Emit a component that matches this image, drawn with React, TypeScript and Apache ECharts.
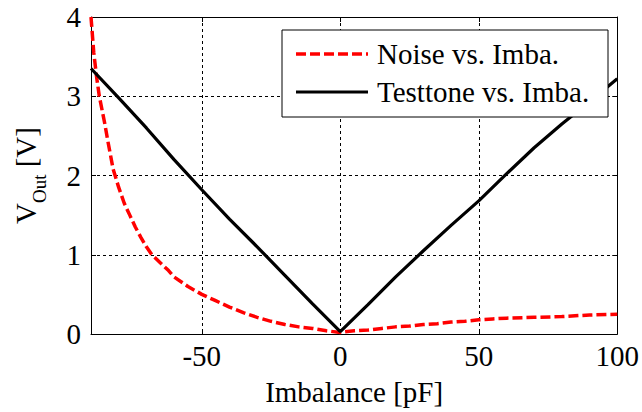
import React, { useEffect, useRef } from "react";
import * as echarts from "echarts";

const noiseX = [-90, -89, -88, -87, -85, -84, -82, -80, -78, -76, -74, -72, -70, -68, -65, -62, -60, -55, -50, -45, -40, -35, -30, -25, -20, -15, -10, -5, 0, 5, 10, 15, 20, 25, 30, 35, 40, 45, 50, 55, 60, 70, 80, 90, 100];
const noiseY = [4.0, 3.55, 3.25, 3.0, 2.65, 2.45, 2.08, 1.85, 1.65, 1.5, 1.35, 1.22, 1.1, 1.0, 0.9, 0.8, 0.72, 0.6, 0.5, 0.42, 0.34, 0.27, 0.21, 0.16, 0.12, 0.09, 0.07, 0.04, 0.02, 0.04, 0.05, 0.07, 0.09, 0.1, 0.12, 0.13, 0.15, 0.16, 0.18, 0.19, 0.2, 0.21, 0.22, 0.24, 0.25];

const toneX = [-90, -80, -70, -60, -50, -40, -30, -20, -10, 0, 10, 20, 30, 40, 50, 60, 70, 80, 90, 100];
const toneY = [3.35, 2.98, 2.6, 2.2, 1.82, 1.45, 1.1, 0.74, 0.38, 0.03, 0.37, 0.72, 1.05, 1.37, 1.68, 2.02, 2.35, 2.65, 2.93, 3.22];

const xTicks = [-50, 0, 50, 100];
const seriesNames = ["Noise vs. Imba.", "Testtone vs. Imba."];

const FONT = "'Liberation Serif', 'Times New Roman', serif";
const FS = 29;

export default function App() {
  const ref = useRef<HTMLDivElement>(null);
  useEffect(() => {
    if (!ref.current) return;
    const chart = echarts.init(ref.current, undefined, { renderer: "svg" });
    const grid = { left: 91, right: 24, top: 17, bottom: 78 };
    const splitLine = { show: true, lineStyle: { color: "#000", width: 1, type: [3, 3] as any } };
    chart.setOption({
      animation: false,
      backgroundColor: "#fff",
      grid: { ...grid, show: false },
      xAxis: [
        {
          type: "value",
          min: -90,
          max: 100,
          axisLine: { show: true, onZero: false, lineStyle: { color: "#000", width: 1 } },
          axisTick: { show: true, inside: true, length: 5, customValues: xTicks, lineStyle: { color: "#000" } },
          axisLabel: { customValues: xTicks, color: "#000", fontFamily: FONT, fontSize: FS, margin: 7 },
          splitLine,
          name: "Imbalance [pF]",
          nameLocation: "middle",
          nameGap: 43,
          nameTextStyle: { color: "#000", fontFamily: FONT, fontSize: FS },
        },
        {
          type: "value",
          position: "top",
          min: -90,
          max: 100,
          axisLine: { show: true, onZero: false, lineStyle: { color: "#000", width: 1 } },
          axisTick: { show: true, inside: true, length: 5, customValues: xTicks, lineStyle: { color: "#000" } },
          axisLabel: { show: false, customValues: xTicks },
          splitLine: { show: false },
        },
      ],
      yAxis: [
        {
          type: "value",
          min: 0,
          max: 4,
          interval: 1,
          axisLine: { show: true, onZero: false, lineStyle: { color: "#000", width: 1 } },
          axisTick: { show: true, inside: true, length: 5, lineStyle: { color: "#000" } },
          axisLabel: { color: "#000", fontFamily: FONT, fontSize: FS, margin: 10 },
          splitLine,
          name: "{v|V}{s|Out}{v| [V]}",
          nameLocation: "middle",
          nameGap: 48,
          nameTextStyle: {
            color: "#000",
            fontFamily: FONT,
            fontSize: FS,
            rich: {
              v: { fontFamily: FONT, fontSize: FS, color: "#000", lineHeight: 34 },
              s: { fontFamily: FONT, fontSize: 19, color: "#000", verticalAlign: "bottom", lineHeight: 19, padding: [0, 0, -6, 0] },
            },
          },
        },
        {
          type: "value",
          position: "right",
          min: 0,
          max: 4,
          interval: 1,
          axisLine: { show: true, onZero: false, lineStyle: { color: "#000", width: 1 } },
          axisTick: { show: true, inside: true, length: 5, lineStyle: { color: "#000" } },
          axisLabel: { show: false },
          splitLine: { show: false },
        },
      ],
      series: [
        {
          name: seriesNames[0],
          type: "line",
          data: noiseX.map((x, i) => [x, noiseY[i]]),
          symbol: "none",
          smooth: false,
          lineStyle: { color: "#ff0000", width: 3.5, type: [10, 4] as any },
          z: 3,
        },
        {
          name: seriesNames[1],
          type: "line",
          data: toneX.map((x, i) => [x, toneY[i]]),
          symbol: "none",
          lineStyle: { color: "#000", width: 3.2 },
          z: 4,
        },
      ],
      graphic: [
        {
          type: "rect",
          shape: { x: 282, y: 30, width: 326, height: 87 },
          style: { fill: "#fff", stroke: "#000", lineWidth: 1 },
          z: 10,
        },
        {
          type: "line",
          shape: { x1: 296, y1: 54, x2: 368, y2: 54 },
          style: { stroke: "#ff0000", lineWidth: 3.5, lineDash: [10, 4] },
          z: 11,
        },
        {
          type: "line",
          shape: { x1: 296, y1: 92, x2: 368, y2: 92 },
          style: { stroke: "#000", lineWidth: 3.2 },
          z: 11,
        },
        {
          type: "text",
          x: 377,
          y: 54,
          style: { text: seriesNames[0], fill: "#000", fontFamily: FONT, fontSize: FS, verticalAlign: "middle" },
          z: 11,
        },
        {
          type: "text",
          x: 377,
          y: 92,
          style: { text: seriesNames[1], fill: "#000", fontFamily: FONT, fontSize: FS, verticalAlign: "middle" },
          z: 11,
        },
      ],
    });
    return () => chart.dispose();
  }, []);
  return <div ref={ref} style={{ width: 642, height: 412, position: "absolute", left: 0, top: 0 }} />;
}
